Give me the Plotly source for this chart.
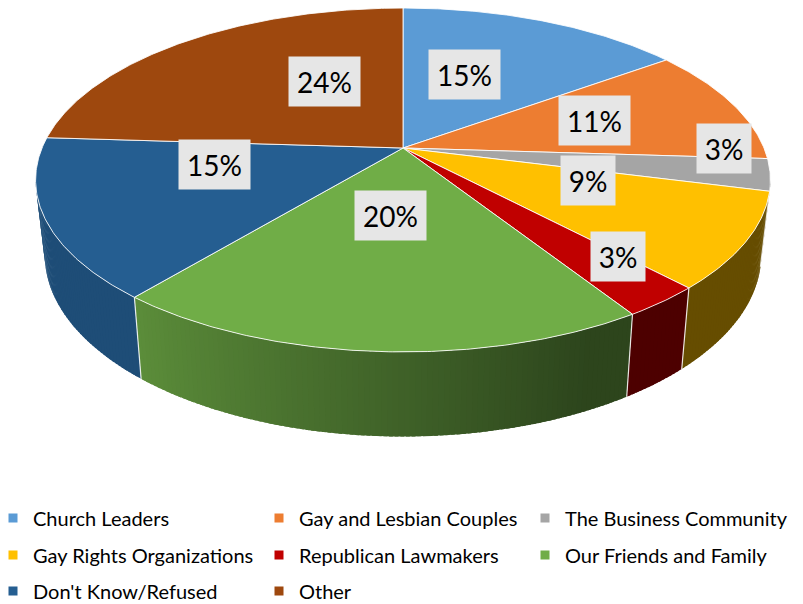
import numpy as np
import plotly.graph_objects as go

# ---------------- data ----------------
categories = ["Church Leaders", "Gay and Lesbian Couples", "The Business Community",
              "Gay Rights Organizations", "Republican Lawmakers", "Our Friends and Family",
              "Don't Know/Refused", "Other"]
values = [15, 11, 3, 9, 3, 20, 15, 24]
value_labels = ["15%", "11%", "3%", "9%", "3%", "20%", "15%", "24%"]

# ---------------- style ----------------
colors = ["#5B9BD5", "#ED7D31", "#A5A5A5", "#FFC000", "#C00000", "#70AD47", "#255E91", "#9E480E"]
legend_rows = [[0, 1, 2], [3, 4, 5], [6, 7]]
# label placement tweaks (radius fraction, angle offset from slice middle)
LABEL_R = [0.514, 0.573, 0.889, 0.529, 0.788, 0.38, 0.522, 0.4925]
LABEL_DT = [-5.9, -1.1, -8.8, -10.0, -4.5, 1.4, 12.6, 14.7]

W, Hh = 803, 604
PLOT_H = 484           # plot area height (legend sits in bottom margin)
CX, CY = 403, 148      # pie centre on screen
RX, RY = 361, 166      # radii of top face
K = 0.186              # perspective strength
THICK = 73             # thickness of the pie
BOT = 0.975            # bottom face shrink (perspective)
SIL_A = np.degrees(np.arccos(-K))          # right silhouette angle
SIL_B = 360 - SIL_A                        # left silhouette angle


def proj(theta, r=1.0, bottom=False):
    t = np.radians(theta)
    u = r * np.sin(t)
    v = r * np.cos(t)
    s = 1.0 / (1.0 + K * v)
    if bottom:
        return CX + RX * u * s * BOT, CY - RY * v * s * BOT + THICK * s
    return CX + RX * u * s, CY - RY * v * s


def hex2rgb(h):
    h = h.lstrip("#")
    return [int(h[i:i + 2], 16) for i in (0, 2, 4)]


def shade(hexcol, f):
    r, g, b = hex2rgb(hexcol)
    return "rgb(%d,%d,%d)" % (round(r * f), round(g * f), round(b * f))


def wall_factor(theta):
    # darker on the right-front, lighter on the left-front
    if theta <= 155:
        return 0.40
    if theta >= 220:
        return 0.82
    return 0.40 + 0.42 * (theta - 155) / 65.0


total = float(sum(values))
starts = []
acc = 0.0
for v in values:
    starts.append(acc / total * 360.0)
    acc += v
ends = [s + v / total * 360.0 for s, v in zip(starts, values)]

fig = go.Figure()

# ---- side walls (gradient strips, overlapping to hide seams) ----
for i in range(len(values)):
    a = max(starts[i], SIL_A)
    b = min(ends[i], SIL_B)
    if b <= a:
        continue
    n = max(1, int(np.ceil((b - a) / 0.75)))
    edges = np.linspace(a, b, n + 1)
    for j in range(n):
        t0 = edges[j]
        t1 = min(edges[j + 1] + 0.5, b)
        ts = np.linspace(t0, t1, 4)
        xt, yt = proj(ts)
        xb, yb = proj(ts[::-1], bottom=True)
        xs = np.concatenate([xt, xb, xt[:1]])
        ys = np.concatenate([yt, yb, yt[:1]])
        col = shade(colors[i], wall_factor((edges[j] + edges[j + 1]) / 2))
        fig.add_trace(go.Scatter(x=xs, y=ys, mode="lines", fill="toself",
                                 fillcolor=col, line=dict(width=0),
                                 hoverinfo="skip", showlegend=False))

# ---- white edges between walls ----
for i in range(len(values)):
    t = starts[i]
    if SIL_A < t < SIL_B:
        x0, y0 = proj(t)
        x1, y1 = proj(t, bottom=True)
        fig.add_trace(go.Scatter(x=[x0, x1], y=[y0, y1], mode="lines",
                                 line=dict(color="rgba(255,255,255,0.85)", width=1.2),
                                 hoverinfo="skip", showlegend=False))

# ---- top faces ----
for i in range(len(values)):
    ts = np.linspace(starts[i], ends[i], max(4, int((ends[i] - starts[i]) * 2)))
    xr, yr = proj(ts)
    xs = np.concatenate([[CX], xr, [CX]])
    ys = np.concatenate([[CY], yr, [CY]])
    fig.add_trace(go.Scatter(x=xs, y=ys, mode="lines", fill="toself",
                             fillcolor=colors[i],
                             line=dict(color="rgba(255,255,255,0.85)", width=1),
                             hoverinfo="text", text=f"{categories[i]}: {value_labels[i]}",
                             showlegend=False))

# ---- legend entries ----
for li, row in enumerate(legend_rows):
    lname = "legend" if li == 0 else f"legend{li + 1}"
    for i in row:
        fig.add_trace(go.Scatter(x=[None], y=[None], mode="markers", name=categories[i],
                                 marker=dict(symbol="square", size=9, color=colors[i]),
                                 legend=lname, showlegend=True))

# ---- data labels ----
for i in range(len(values)):
    mid = (starts[i] + ends[i]) / 2 + LABEL_DT[i]
    lx, ly = proj(mid, r=LABEL_R[i])
    fig.add_annotation(x=lx, y=ly, xref="x", yref="y", text=value_labels[i],
                       showarrow=False, bgcolor="#E6E6E6",
                       width=69 if len(value_labels[i]) == 3 else 52, height=47,
                       font=dict(family="Lato, Carlito, Calibri, sans-serif", size=28, color="#000000"))

leg_common = dict(orientation="h", x=-7 / W, xanchor="left", yanchor="middle",
                  entrywidth=221, entrywidthmode="pixels",
                  font=dict(family="Lato, Carlito, Calibri, sans-serif", size=20, color="#000000"),
                  bgcolor="rgba(0,0,0,0)", traceorder="normal")
row_y = [518, 555, 591]

fig.update_layout(
    width=W, height=Hh, margin=dict(l=0, r=0, t=0, b=Hh - PLOT_H, autoexpand=False),
    paper_bgcolor="white", plot_bgcolor="white",
    xaxis=dict(range=[0, W], visible=False, fixedrange=True),
    yaxis=dict(range=[PLOT_H, 0], visible=False, fixedrange=True),
    legend=dict(**leg_common, y=-(row_y[0] - PLOT_H) / PLOT_H),
    legend2=dict(**leg_common, y=-(row_y[1] - PLOT_H) / PLOT_H),
    legend3=dict(**leg_common, y=-(row_y[2] - PLOT_H) / PLOT_H),
    showlegend=True,
)

fig.write_html("out.html", config={"displayModeBar": False},
               post_script="document.body.style.margin='0';")
